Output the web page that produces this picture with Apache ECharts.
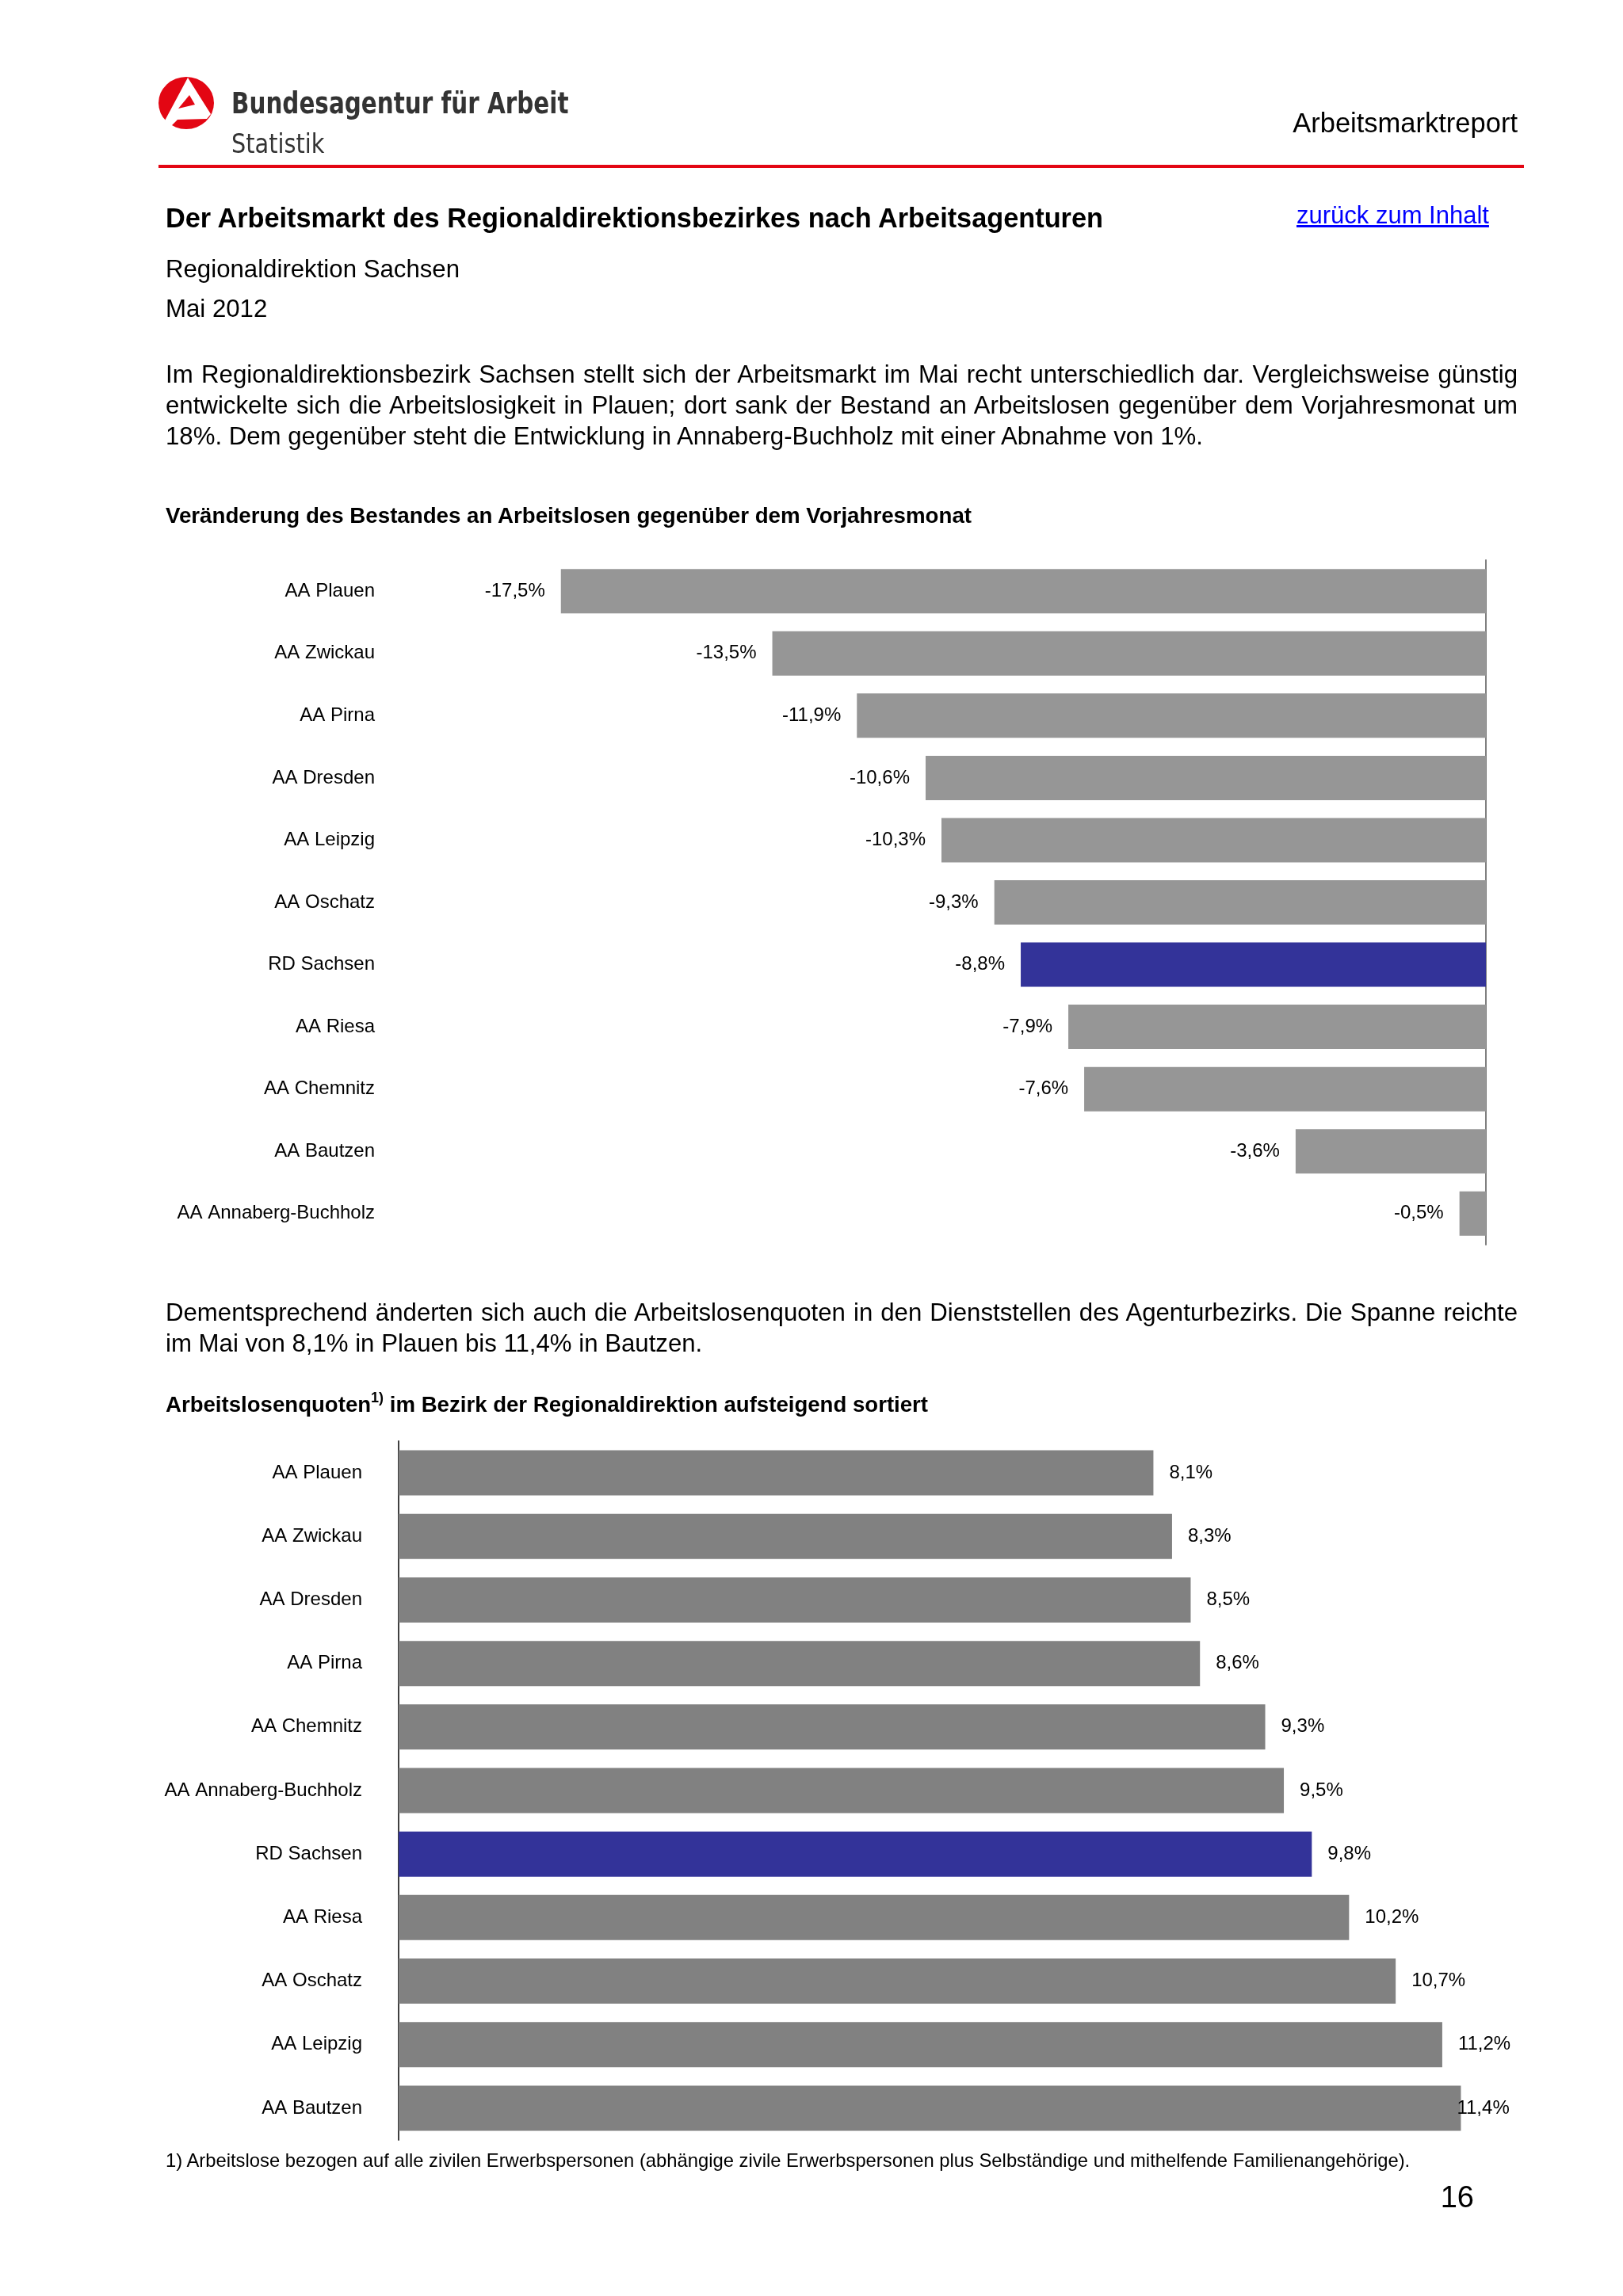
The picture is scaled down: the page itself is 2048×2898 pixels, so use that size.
<!DOCTYPE html>
<html><head><meta charset="utf-8">
<script src="https://cdn.jsdelivr.net/npm/echarts@6/dist/echarts.min.js"></script>
<style>
html,body{margin:0;padding:0;background:#fff;}
#page{position:relative;width:2048px;height:2898px;overflow:hidden;font-family:"Liberation Sans",Arial,sans-serif;color:#000;}
#chart{position:absolute;left:0;top:0;width:2048px;height:2898px;}
.t{position:absolute;white-space:nowrap;}
.narrow{font-family:"Liberation Sans Narrow","DejaVu Sans Condensed","Liberation Sans",sans-serif;color:#333;transform-origin:0 50%;}
.para{position:absolute;left:209px;width:1706px;font-size:31.2px;line-height:39px;text-align:justify;text-align-last:left;}
</style></head>
<body><div id="page">
<div id="chart"></div>
<svg class="t" style="left:200px;top:97px" width="70" height="66" viewBox="0 0 70 66">
  <ellipse cx="35" cy="33" rx="35" ry="33" fill="#e30613"/>
  <path d="M37,1 L66,47 L61,53 L24,54 L14,64 L7,57 Z" fill="#fff"/>
  <path d="M39,23 L46,35 L25,40 Z" fill="#e30613"/>
</svg>
<div class="t narrow" style="left:292px;top:109px;font-size:37px;line-height:44px;font-weight:bold;transform:scaleX(0.884);">Bundesagentur für Arbeit</div>
<div class="t narrow" style="left:292px;top:160px;font-size:34px;line-height:42px;transform:scaleX(0.94);">Statistik</div>
<div class="t" style="right:133px;top:135px;font-size:34.5px;line-height:40px;">Arbeitsmarktreport</div>
<div class="t" style="left:200px;top:208px;width:1723px;height:4px;background:#e30613;"></div>
<div class="t" style="left:209px;top:255px;font-size:34.3px;line-height:41px;font-weight:bold;">Der Arbeitsmarkt des Regionaldirektionsbezirkes nach Arbeitsagenturen</div>
<div class="t" style="left:1636px;top:252px;font-size:31px;line-height:40px;color:#0000ff;text-decoration:underline;">zurück zum Inhalt</div>
<div class="t" style="left:209px;top:320px;font-size:31.2px;line-height:40px;">Regionaldirektion Sachsen</div>
<div class="t" style="left:209px;top:370px;font-size:31.2px;line-height:40px;">Mai 2012</div>
<div class="para" style="top:453px;">Im Regionaldirektionsbezirk Sachsen stellt sich der Arbeitsmarkt im Mai recht unterschiedlich dar. Vergleichsweise günstig entwickelte sich die Arbeitslosigkeit in Plauen; dort sank der Bestand an Arbeitslosen gegenüber dem Vorjahresmonat um 18%. Dem gegenüber steht die Entwicklung in Annaberg-Buchholz mit einer Abnahme von 1%.</div>
<div class="t" style="left:209px;top:635px;font-size:27.7px;line-height:32px;font-weight:bold;">Veränderung des Bestandes an Arbeitslosen gegenüber dem Vorjahresmonat</div>
<div class="para" style="top:1637px;">Dementsprechend änderten sich auch die Arbeitslosenquoten in den Dienststellen des Agenturbezirks. Die Spanne reichte im Mai von 8,1% in Plauen bis 11,4% in Bautzen.</div>
<div class="t" style="left:209px;top:1757px;font-size:27.6px;line-height:32px;font-weight:bold;">Arbeitslosenquoten<sup style="font-size:18px;line-height:0;vertical-align:12px;">1)</sup> im Bezirk der Regionaldirektion aufsteigend sortiert</div>
<div class="t" style="left:209px;top:2713px;font-size:23.8px;line-height:28px;">1) Arbeitslose bezogen auf alle zivilen Erwerbspersonen (abhängige zivile Erwerbspersonen plus Selbständige und mithelfende Familienangehörige).</div>
<div class="t" style="right:188px;top:2752px;font-size:38px;line-height:42px;">16</div>
</div>
<script>
// Chart 1: Veränderung des Bestandes an Arbeitslosen gegenüber dem Vorjahresmonat (%)
const categories1 = ['AA Plauen','AA Zwickau','AA Pirna','AA Dresden','AA Leipzig','AA Oschatz','RD Sachsen','AA Riesa','AA Chemnitz','AA Bautzen','AA Annaberg-Buchholz'];
const values1 = [-17.5,-13.5,-11.9,-10.6,-10.3,-9.3,-8.8,-7.9,-7.6,-3.6,-0.5];
// Chart 2: Arbeitslosenquoten (%)
const categories2 = ['AA Plauen','AA Zwickau','AA Dresden','AA Pirna','AA Chemnitz','AA Annaberg-Buchholz','RD Sachsen','AA Riesa','AA Oschatz','AA Leipzig','AA Bautzen'];
const values2 = [8.1,8.3,8.5,8.6,9.3,9.5,9.8,10.2,10.7,11.2,11.4];
const highlightName = 'RD Sachsen';

const BLUE = '#333399', GRAY1 = '#969696', GRAY2 = '#818181';
const FONT = 'Liberation Sans';
const fmt = p => p.value.toFixed(1).replace('.', ',') + '%';

const G1 = {left: 541, width: 1334, top: 707, height: 864, min: -20, max: 0};
const G2 = {left: 503, width: 1411, top: 1819, height: 882, min: 0, max: 12};
const LABEL_W = 64, LABEL_D = 20;

const mk = (cats, vals, gray, g) => cats.map((c, i) => {
  const item = {value: vals[i], itemStyle: {color: c === highlightName ? BLUE : gray}};
  if (g) {
    const len = (vals[i] - g.min) / (g.max - g.min) * g.width;
    if (len + LABEL_D + LABEL_W > g.width) item.label = {distance: -5};
  }
  return item;
});

const chart = echarts.init(document.getElementById('chart'), null, {renderer: 'canvas'});
chart.setOption({
  animation: false,
  grid: [
    {left: G1.left, width: G1.width, top: G1.top, height: G1.height},
    {left: G2.left, width: G2.width, top: G2.top, height: G2.height}
  ],
  xAxis: [
    {gridIndex: 0, type: 'value', min: G1.min, max: G1.max, show: false},
    {gridIndex: 1, type: 'value', min: G2.min, max: G2.max, show: false}
  ],
  yAxis: [
    {gridIndex: 0, type: 'category', data: categories1, inverse: true, position: 'left',
     axisLine: {show: false, onZero: false}, axisTick: {show: false}, splitLine: {show: false},
     axisLabel: {margin: 68, fontSize: 24, color: '#000', fontFamily: FONT}},
    {gridIndex: 0, type: 'category', data: categories1, inverse: true, position: 'right',
     axisLine: {show: true, onZero: false, lineStyle: {color: '#7f7f7f', width: 2}}, axisTick: {show: false},
     axisLabel: {show: false}, splitLine: {show: false}},
    {gridIndex: 1, type: 'category', data: categories2, inverse: true, position: 'left',
     axisLine: {show: true, onZero: false, lineStyle: {color: '#404040', width: 2}}, axisTick: {show: false},
     splitLine: {show: false},
     axisLabel: {margin: 46, fontSize: 24, color: '#000', fontFamily: FONT}}
  ],
  series: [
    {type: 'bar', xAxisIndex: 0, yAxisIndex: 0, barWidth: 56, data: mk(categories1, values1, GRAY1, null),
     label: {show: true, position: 'left', distance: LABEL_D, formatter: fmt, fontSize: 24, color: '#000', fontFamily: FONT}},
    {type: 'bar', xAxisIndex: 1, yAxisIndex: 2, barWidth: 57, data: mk(categories2, values2, GRAY2, G2),
     label: {show: true, position: 'right', distance: LABEL_D, formatter: fmt, fontSize: 24, color: '#000', fontFamily: FONT}}
  ]
});
</script>
</body></html>
